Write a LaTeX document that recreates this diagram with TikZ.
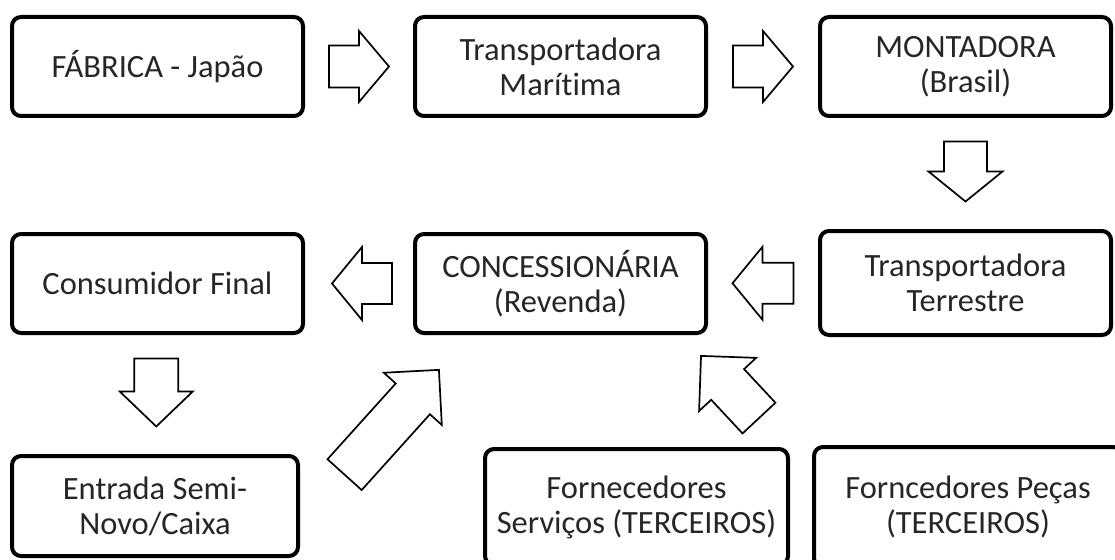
\documentclass[tikz,border=0pt]{standalone}
\usepackage{fontspec}
\setmainfont{Carlito}[Ligatures={NoCommon}]
\usetikzlibrary{calc}
\tikzset{
  box/.style={draw=black, line width=4pt, rounded corners=9pt, inner sep=0pt,
    minimum width=291pt, minimum height=99pt, align=center, fill=white,
    font=\fontsize{32.5}{35}\selectfont, text=black!85},
  blockarrow/.style={draw=black, line width=1.7pt, fill=white, line join=miter},
}
% center coordinate name, angle, length, shaft width, head width, head length
\newcommand\blockarr[6]{%
  \draw[blockarrow, shift={(#1)}, rotate=#2]
    (-#3/2,-#4/2) -- (#3/2-#6,-#4/2) -- (#3/2-#6,-#5/2) -- (#3/2,0)
    -- (#3/2-#6,#5/2) -- (#3/2-#6,#4/2) -- (-#3/2,#4/2) -- cycle;}
\begin{document}
\begin{tikzpicture}[x=1pt,y=-1pt]
\useasboundingbox (0,0) rectangle (1115,559);
\clip (0,0) rectangle (1115,559);
\fill[white] (0,0) rectangle (1115,559);

% row 1
\node[box] (fab) at (157.5,66.5) {FÁBRICA - Japão};
\node[box] (tmar) at (560.5,66.5) {Transportadora\\Marítima};
\node[box] (mont) at (965.5,66.5) {MONTADORA\\(Brasil)};
% row 2
\node[box] (cons) at (157.5,283.5) {Consumidor Final};
\node[box] (conc) at (560.5,283.5) {CONCESSIONÁRIA\\(Revenda)};
\node[box, minimum height=104pt] (tter) at (965.5,283) {Transportadora\\Terrestre};
% row 3
\node[box, minimum width=286pt, minimum height=100pt] (entr) at (155,506) {Entrada Semi-\\Novo/Caixa};
\node[box, minimum width=303pt, minimum height=116pt] (fserv) at (636.5,507) {Fornecedores\\Serviços (TERCEIROS)};
\node[box, minimum width=308pt, minimum height=120pt] (fpec) at (968,507) {Forncedores Peças\\(TERCEIROS)};

% arrow centres
\coordinate (a1) at ($(fab.east)!0.5!(tmar.west)$);
\coordinate (a2) at ($(tmar.east)!0.5!(mont.west)$);
\coordinate (a3) at ($(mont.south)!0.5!(tter.north)+(0,-2)$);
\coordinate (a4) at ($(conc.east)!0.5!(tter.west)$);
\coordinate (a5) at ($(cons.east)!0.5!(conc.west)+(3,0)$);
\coordinate (a6) at ($(cons.south)!0.5!(entr.north)+(0,-2)$);
\coordinate (a7) at (391.75,422.25);
\coordinate (a8) at (730,387);

\blockarr{a1}{0}{60}{42}{71}{30}
\blockarr{a2}{0}{60}{42}{71}{30}
\blockarr{a3}{-90}{60}{43}{74}{30}
\blockarr{a4}{180}{61}{41}{73}{30}
\blockarr{a5}{180}{60}{41}{73}{30}
\blockarr{a6}{-90}{68}{44}{73}{35}
\blockarr{a7}{48}{141}{46}{78}{39}
\blockarr{a8}{133}{85}{45}{78}{39}
\end{tikzpicture}
\end{document}
